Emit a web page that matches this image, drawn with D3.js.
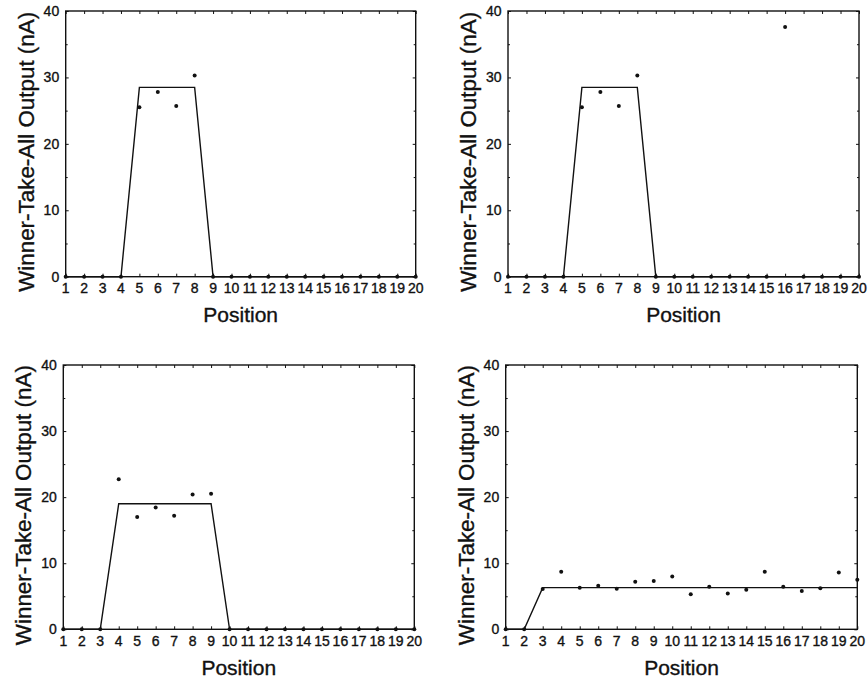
<!DOCTYPE html>
<html>
<head>
<meta charset="utf-8">
<script src="https://cdn.jsdelivr.net/npm/d3@7"></script>
<style>
  body { margin: 0; background: #fff; }
  svg { display: block; }
  text { font-family: "Liberation Sans", Arial, Helvetica, sans-serif; fill: #111; stroke: #111; stroke-width: 0.35px; }
</style>
</head>
<body>
<div id="chart"></div>
<script>
const positions = [1, 2, 3, 4, 5, 6, 7, 8, 9, 10, 11, 12, 13, 14, 15, 16, 17, 18, 19, 20];
const yMajor = [0, 10, 20, 30, 40];
const yMinor = [5, 15, 25, 35];

// top left
const fitA  = [0, 0, 0, 0, 28.5, 28.5, 28.5, 28.5, 0, 0, 0, 0, 0, 0, 0, 0, 0, 0, 0, 0];
const measA = [0, 0, 0, 0, 25.5, 27.8, 25.7, 30.3, 0, 0, 0, 0, 0, 0, 0, 0, 0, 0, 0, 0];
// top right
const fitB  = [0, 0, 0, 0, 28.5, 28.5, 28.5, 28.5, 0, 0, 0, 0, 0, 0, 0, 0, 0, 0, 0, 0];
const measB = [0, 0, 0, 0, 25.5, 27.8, 25.7, 30.3, 0, 0, 0, 0, 0, 0, 0, 37.6, 0, 0, 0, 0];
// bottom left
const fitC  = [0, 0, 0, 19, 19, 19, 19, 19, 19, 0, 0, 0, 0, 0, 0, 0, 0, 0, 0, 0];
const measC = [0, 0, 0, 22.7, 17.0, 18.45, 17.2, 20.4, 20.5, 0, 0, 0, 0, 0, 0, 0, 0, 0, 0, 0];
// bottom right
const fitD  = [0, 0, 6.3, 6.3, 6.3, 6.3, 6.3, 6.3, 6.3, 6.3, 6.3, 6.3, 6.3, 6.3, 6.3, 6.3, 6.3, 6.3, 6.3, 6.3];
const measD = [0, 0, 6.1, 8.7, 6.3, 6.6, 6.15, 7.2, 7.3, 8.0, 5.3, 6.45, 5.4, 6.0, 8.7, 6.45, 5.8, 6.2, 8.6, 7.5];

const width = 868, height = 679;

const panels = [
  { fit: fitA, meas: measA, left: 65.7, right: 415.7, top: 11, bottom: 276.7 },
  { fit: fitB, meas: measB, left: 508, right: 859, top: 11, bottom: 276.7 },
  { fit: fitC, meas: measC, left: 63.3, right: 414.3, top: 365, bottom: 629.3 },
  { fit: fitD, meas: measD, left: 505.7, right: 857.3, top: 365, bottom: 629.3 }
];

const svg = d3.select('#chart').append('svg')
  .attr('width', width)
  .attr('height', height);

function drawPanel(p) {
  const x = d3.scaleLinear().domain([1, 20]).range([p.left, p.right]);
  const y = d3.scaleLinear().domain([0, 40]).range([p.bottom, p.top]);
  const g = svg.append('g');

  // inward ticks on all four sides
  const tick = (sel, axis, tx, ty) => {
    sel.append('g')
      .attr('transform', `translate(${tx},${ty})`)
      .call(axis)
      .call(a => a.select('.domain').remove())
      .call(a => a.selectAll('line').attr('stroke', '#111').attr('stroke-width', 1));
  };

  tick(g, d3.axisBottom(x).tickValues(positions).tickSize(-3).tickFormat(''), 0, p.bottom);
  tick(g, d3.axisTop(x).tickValues(positions).tickSize(-3).tickFormat(''), 0, p.top);
  tick(g, d3.axisLeft(y).tickValues(yMajor).tickSize(-3).tickFormat(''), p.left, 0);
  tick(g, d3.axisLeft(y).tickValues(yMinor).tickSize(-2).tickFormat(''), p.left, 0);
  tick(g, d3.axisRight(y).tickValues(yMajor).tickSize(-3).tickFormat(''), p.right, 0);
  tick(g, d3.axisRight(y).tickValues(yMinor).tickSize(-2).tickFormat(''), p.right, 0);

  // tick labels
  g.selectAll('.xl').data(positions).join('text')
    .attr('x', d => x(d))
    .attr('y', p.bottom + 16.3)
    .attr('text-anchor', 'middle')
    .attr('font-size', 14)
    .text(d => d);

  g.selectAll('.yl').data(yMajor).join('text')
    .attr('x', p.left - 6.5)
    .attr('y', d => y(d))
    .attr('dy', '0.36em')
    .attr('text-anchor', 'end')
    .attr('font-size', 14)
    .text(d => d);

  // frame
  g.append('rect')
    .attr('x', p.left).attr('y', p.top)
    .attr('width', p.right - p.left).attr('height', p.bottom - p.top)
    .attr('fill', 'none')
    .attr('stroke', '#111')
    .attr('stroke-width', 1.4);

  // fit line
  const line = d3.line()
    .x((d, i) => x(positions[i]))
    .y(d => y(d));
  g.append('path')
    .datum(p.fit)
    .attr('d', line)
    .attr('fill', 'none')
    .attr('stroke', '#111')
    .attr('stroke-width', 1.4);

  // measured points
  g.selectAll('.pt').data(p.meas).join('circle')
    .attr('cx', (d, i) => x(positions[i]))
    .attr('cy', d => y(d))
    .attr('r', 2)
    .attr('fill', '#111');

  // axis titles
  const cy = (p.top + p.bottom) / 2 + 8;
  g.append('text')
    .attr('transform', `translate(${p.left - 32},${cy}) rotate(-90)`)
    .attr('text-anchor', 'middle')
    .attr('font-size', 22)
    .attr('textLength', 280)
    .attr('lengthAdjust', 'spacingAndGlyphs')
    .text('Winner-Take-All Output (nA)');

  g.append('text')
    .attr('x', (p.left + p.right) / 2)
    .attr('y', p.bottom + 45.5)
    .attr('text-anchor', 'middle')
    .attr('font-size', 21)
    .text('Position');
}

panels.forEach(drawPanel);
</script>
</body>
</html>
